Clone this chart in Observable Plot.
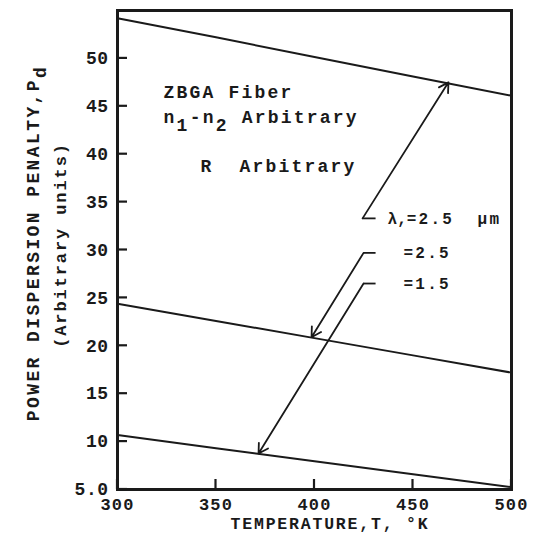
<!DOCTYPE html>
<html><head><meta charset="utf-8">
<script src="https://cdn.jsdelivr.net/npm/d3@7"></script>
<script src="https://cdn.jsdelivr.net/npm/@observablehq/plot@0.6"></script>
<style>
html,body{margin:0;padding:0;background:#fff;}
svg text{white-space:pre;}
</style></head><body><div id="chart"></div>
<script>
// ---- data ----
const temperatures = [300, 350, 400, 450, 500];
const penaltyTop = [54.2, 52.2, 50.15, 48.1, 46.1];
const penaltyMid = [24.4, 22.6, 20.8, 19.0, 17.2];
const penaltyLow = [10.7, 9.3, 7.95, 6.6, 5.25];

const xTicks = [300, 350, 400, 450, 500];
const xTickLabels = ["300", "350", "400", "450", "500"];
const yTicks = [5, 10, 15, 20, 25, 30, 35, 40, 45, 50];
const yTickLabels = ["5.0", "10", "15", "20", "25", "30", "35", "40", "45", "50"];

// leader annotations (label -> curve)
const leaderLabels = ["λ,=2.5  μm", "=2.5", "=1.5"];
const leaderCornerT = [424.4, 424.9, 424.9];
const leaderCornerP = [33.3, 29.7, 26.5];
const leaderStubT = [431, 431, 431];
const leaderTextT = [437.1, 445.2, 445.2];
const leaderTargetT = [468.0, 398.5, 371.6];
const leaderTargetP = [47.5, 20.9, 8.75];

// notes
const noteLines = ["ZBGA Fiber", "n1-n2 Arbitrary", "R  Arbitrary"];
const noteT = [323.4, 323.4, 342.1];
const noteP = [46.5, 43.9, 38.7];

const xTitle = "TEMPERATURE,T, °K";
const yTitle = "POWER DISPERSION PENALTY,P";
const yTitleSub = "d";
const ySubtitle = "(Arbitrary units)";

// ---- build tables ----
const mk = (vals) => temperatures.map((t, i) => ({t, p: vals[i]}));
const series = [mk(penaltyTop), mk(penaltyMid), mk(penaltyLow)];
const leaders = leaderLabels.map((label, i) => ({
  label, ct: leaderCornerT[i], cp: leaderCornerP[i], st: leaderStubT[i],
  lt: leaderTextT[i], tt: leaderTargetT[i], tp: leaderTargetP[i]
}));
const notes = noteLines.map((text, i) => ({text, t: noteT[i], p: noteP[i]}));

const ink = "#1a1a1a";
const font = "'Liberation Mono', 'DejaVu Sans Mono', monospace";
const tickLen = 10;

const chart = Plot.plot({
  width: 538, height: 539,
  marginLeft: 117, marginRight: 27, marginTop: 10, marginBottom: 50,
  x: {domain: [300, 500]},
  y: {domain: [5, 55]},
  style: {fontFamily: font, fontWeight: "bold", color: ink, background: "#fff", overflow: "visible"},
  marks: [
    Plot.axisY({ticks: yTicks, tickSize: 0, tickPadding: 9, fontSize: 18, label: null,
      tickFormat: d => yTickLabels[yTicks.indexOf(d)]}),
    Plot.axisX({ticks: xTicks, tickSize: 0, tickPadding: 8, fontSize: 17, label: null,
      tickFormat: d => xTickLabels[xTicks.indexOf(d)]}),
    ...series.map(s => Plot.line(s, {x: "t", y: "p", stroke: ink, strokeWidth: 2})),
    Plot.link(leaders, {x1: "ct", y1: "cp", x2: "st", y2: "cp", stroke: ink, strokeWidth: 1.8}),
    Plot.arrow(leaders, {x1: "ct", y1: "cp", x2: "tt", y2: "tp", stroke: ink, strokeWidth: 1.8, headLength: 9}),
    Plot.text(leaders, {x: "lt", y: "cp", text: "label", textAnchor: "start", fontSize: 16, fill: ink}),
    Plot.text(notes, {x: "t", y: "p", text: "text", textAnchor: "start", fontSize: 18, fill: ink}),
    Plot.frame({stroke: ink, strokeWidth: 3})
  ]
});
document.getElementById("chart").appendChild(chart);

const svg = d3.select(chart);
const sx = chart.scale("x"), sy = chart.scale("y");
const x0 = sx.apply(sx.domain[0]), y0 = sy.apply(sy.domain[0]);

// inward tick marks, drawn on top through the chart's own scales
const tg = svg.append("g").attr("aria-label", "inward ticks")
  .attr("stroke", ink).attr("stroke-width", 2.2).attr("stroke-linecap", "butt");
yTicks.forEach(v => {
  const y = sy.apply(v);
  tg.append("line").attr("x1", x0).attr("x2", x0 + tickLen).attr("y1", y).attr("y2", y);
});
xTicks.forEach(v => {
  const x = sx.apply(v);
  tg.append("line").attr("x1", x).attr("x2", x).attr("y1", y0).attr("y2", y0 - tickLen);
});

svg.selectAll("g[aria-label='y-axis tick label'] text").attr("letter-spacing", 0.5);
svg.selectAll("g[aria-label='x-axis tick label'] text").attr("letter-spacing", 1.2);
svg.selectAll("g[aria-label='text'] text").attr("letter-spacing", 2.2);

// subscripts for n1-n2, tight lambda
svg.selectAll("g[aria-label='text'] text").each(function() {
  const el = d3.select(this);
  const s = el.text();
  if (s === "n1-n2 Arbitrary") {
    el.text(null);
    el.append("tspan").text("n");
    el.append("tspan").attr("dy", 8).text("1");
    el.append("tspan").attr("dy", -8).text("-n");
    el.append("tspan").attr("dy", 8).text("2");
    el.append("tspan").attr("dy", -8).text(" Arbitrary");
  } else if (s.startsWith("λ")) {
    el.text(null);
    el.append("tspan").attr("letter-spacing", 0).text(s.slice(0, 2));
    el.append("tspan").text(s.slice(2));
  }
});

// axis titles
svg.append("text")
  .attr("x", 330).attr("y", 529).attr("text-anchor", "middle")
  .attr("font-size", 16.5).attr("letter-spacing", 1.8).attr("fill", ink)
  .text(xTitle);

const yt = svg.append("text")
  .attr("transform", "translate(39,243) rotate(-90)")
  .attr("text-anchor", "middle")
  .attr("font-size", 18).attr("letter-spacing", 2.4).attr("fill", ink);
yt.append("tspan").text(yTitle);
yt.append("tspan").attr("dy", 7).text(yTitleSub);

svg.append("text")
  .attr("transform", "translate(66,245) rotate(-90)")
  .attr("text-anchor", "middle")
  .attr("font-size", 17).attr("letter-spacing", 1.9).attr("fill", ink)
  .text(ySubtitle);
</script></body></html>
